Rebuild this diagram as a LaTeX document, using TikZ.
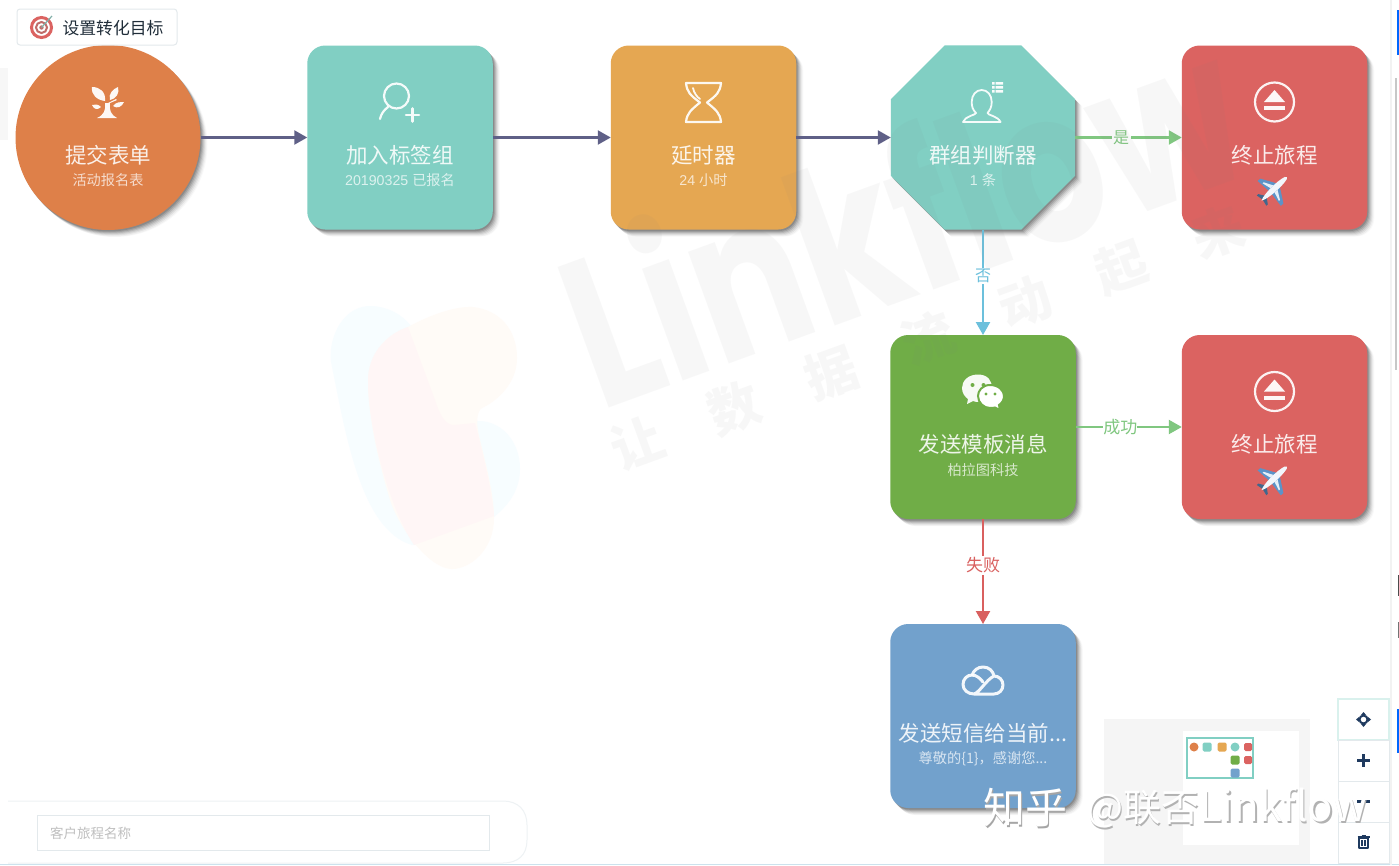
\documentclass[tikz,border=0pt]{standalone}
\usepackage{fontspec}
\setmainfont{Noto Sans CJK SC}
\newfontfamily\wmfont{Poppins}
\newfontfamily\latinfont{Liberation Sans}
\usetikzlibrary{arrows.meta,shapes.geometric,shadows}
\definecolor{cOrange}{HTML}{DE8049}
\definecolor{cTeal}{HTML}{81CFC3}
\definecolor{cAmber}{HTML}{E5A752}
\definecolor{cRed}{HTML}{DB6361}
\definecolor{cGreen}{HTML}{70AD47}
\definecolor{cBlue}{HTML}{72A1CC}
\definecolor{cSlate}{HTML}{5F6087}
\definecolor{cYes}{HTML}{80C780}
\definecolor{cNo}{HTML}{6CC0DC}
\definecolor{cFail}{HTML}{D9605F}
\definecolor{cBorder}{HTML}{E3E9EC}
\definecolor{cIcon}{HTML}{1F3A5F}
\definecolor{cPlane}{HTML}{5C93C8}
\tikzset{
  softshadow/.style={
    general shadow={shadow xshift=7pt,shadow yshift=-7pt,fill=black,opacity=.025},
    general shadow={shadow xshift=6pt,shadow yshift=-6.5pt,fill=black,opacity=.04},
    general shadow={shadow xshift=5pt,shadow yshift=-5.5pt,fill=black,opacity=.06},
    general shadow={shadow xshift=4pt,shadow yshift=-4.5pt,fill=black,opacity=.08},
    general shadow={shadow xshift=3pt,shadow yshift=-3.5pt,fill=black,opacity=.10},
    general shadow={shadow xshift=2pt,shadow yshift=-2.5pt,fill=black,opacity=.12},
    general shadow={shadow xshift=1pt,shadow yshift=-1.5pt,fill=black,opacity=.14}},
  flowbox/.style={rectangle,rounded corners=18pt,minimum width=185.5pt,minimum height=184pt,inner sep=0pt,outer sep=0pt,softshadow},
  flowcirc/.style={circle,minimum size=185pt,inner sep=0pt,outer sep=0pt,softshadow},
  flowocta/.style={regular polygon,regular polygon sides=8,minimum size=199.6pt,inner sep=0pt,outer sep=0pt,softshadow},
  titletext/.style={text=white,font=\fontsize{21.5pt}{24pt}\selectfont,text opacity=.88,inner sep=0pt},
  subtext/.style={text=white,font=\fontsize{14.2pt}{16pt}\selectfont,text opacity=.72,inner sep=0pt},
  link/.style={line width=2.3pt,-{Triangle[length=13pt,width=14pt]}},
  edgelabel/.style={fill=white,inner sep=1.5pt,font=\fontsize{17pt}{19pt}\selectfont},
  iconline/.style={draw=white,line width=2.2pt,fill=none,line cap=round,line join=round,opacity=.92},
  iconfill/.style={fill=white,draw=none,opacity=.95},
  tool/.style={rectangle,draw=cBorder,line width=1pt,fill=white,minimum width=51pt,minimum height=41pt,inner sep=0pt},
  mini/.style={inner sep=0pt,minimum size=9pt,rounded corners=1.5pt},
  wmark/.style={text=black!50,text opacity=.06},
}
\begin{document}
\begin{tikzpicture}[x=1pt,y=-1pt]
\useasboundingbox (0,0) rectangle (1399,865);
\fill[white] (0,0) rectangle (1399,865);
% watermark logo
\fill[cyan!3] (373,306) .. controls (345,304) and (328,335) .. (331,362) .. controls (345,430) and (360,530) .. (412,545) .. controls (450,545) and (520,520) .. (520,469) .. controls (520,440) and (500,420) .. (477,421) -- (420,340) .. controls (410,320) and (395,308) .. (373,306) -- cycle;
\fill[orange!3] (408,327) .. controls (430,315) and (455,306) .. (473,307) .. controls (500,310) and (517,330) .. (517,358) .. controls (517,385) and (495,402) .. (482,408) .. controls (476,412) and (476,425) .. (480,440) .. controls (490,480) and (494,500) .. (494,518) .. controls (494,550) and (470,569) .. (452,569) .. controls (430,569) and (400,530) .. (390,500) .. controls (375,450) and (368,410) .. (368,381) .. controls (368,355) and (385,335) .. (408,327) -- cycle;
\fill[red!3.5] (408,327) .. controls (385,335) and (368,355) .. (368,381) .. controls (368,420) and (385,500) .. (414,545) -- (494,516) .. controls (492,490) and (482,450) .. (475,423) -- (454,425) .. controls (445,425) and (440,415) .. (435,400) -- cycle;
\fill[black!3] (0,68) rectangle (8,140);
% flow nodes
\node[flowcirc,fill=cOrange] (n1) at (108,137.5) {};
\node[flowbox,fill=cTeal] (n2) at (400,137.5) {};
\node[flowbox,fill=cAmber] (n3) at (703.5,137.5) {};
\node[flowocta,fill=cTeal] (n4) at (983,137.5) {};
\node[flowbox,fill=cRed] (n5) at (1274.5,137.5) {};
\node[flowbox,fill=cGreen] (n6) at (983,427) {};
\node[flowbox,fill=cRed] (n7) at (1274.5,427) {};
\node[flowbox,fill=cBlue] (n8) at (983,716) {};
% connectors
\draw[link,cSlate] (n1) -- (n2);
\draw[link,cSlate] (n2) -- (n3);
\draw[link,cSlate] (n3) -- (n4);
\draw[link,cYes] (n4) -- node[edgelabel,text=cYes,pos=.43,font=\fontsize{16pt}{18pt}\selectfont] (l1) {是} (n5);
\draw[link,cNo] (n4) -- node[edgelabel,text=cNo,pos=.44,font=\fontsize{16pt}{18pt}\selectfont] (l2) {否} (n6);
\draw[link,cYes] (n6) -- node[edgelabel,text=cYes,pos=.42,inner xsep=0pt] (l3) {成功} (n7);
\draw[link,cFail] (n6) -- node[edgelabel,text=cFail,pos=.44,inner xsep=0pt] (l4) {失败} (n8);
% watermark text lies over the nodes
\node[rotate=20,xscale=.78,wmark,font=\wmfont\bfseries\fontsize{213pt}{213pt}\selectfont] (wmA) at (900,212) {Linkflow};
\node[rotate=20,wmark,font=\bfseries\fontsize{52pt}{56pt}\selectfont] (wmB) at (928,338) {让\hspace{51pt}数\hspace{51pt}据\hspace{51pt}流\hspace{51pt}动\hspace{51pt}起\hspace{51pt}来};
% labels
\node[titletext] (t1) at (108,155) {提交表单};
\node[subtext] (s1) at (108,180.5) {活动报名表};
\node[titletext] (t2) at (400,155) {加入标签组};
\node[subtext] (s2) at (400,180.5) {\latinfont 20190325 \normalfont 已报名};
\node[titletext] (t3) at (703.5,155) {延时器};
\node[subtext] (s3) at (703.5,180.5) {\latinfont 24 \normalfont 小时};
\node[titletext] (t4) at (983,155) {群组判断器};
\node[subtext] (s4) at (983,180.5) {\latinfont 1 \normalfont 条};
\node[titletext] (t5) at (1274.5,155) {终止旅程};
\node[titletext] (t7) at (1274.5,444) {终止旅程};
\node[titletext] (t6) at (983,444) {发送模板消息};
\node[subtext] (s6) at (983,470) {柏拉图科技};
\node[titletext] (t8) at (983,733) {发送短信给当前...};
\node[subtext] (s8) at (983,759) {尊敬的\{1\}，感谢您...};
% tree icon
\fill[iconfill] (97,118) -- (117,118) .. controls (111,115) and (109,110) .. (110,103) -- (117,100) -- (116,99) -- (108,103) -- (105,103) .. controls (106,110) and (104,115) .. (97,118) -- cycle;
\fill[iconfill] (105,101) .. controls (97,100) and (91,95) .. (92,87) .. controls (100,87) and (106,92) .. (105,101) -- cycle;
\fill[iconfill] (110,100) .. controls (108,94) and (113,89) .. (118,87) .. controls (120,93) and (116,99) .. (110,100) -- cycle;
\fill[iconfill] (101,107) .. controls (98,104) and (95,104) .. (92,105) .. controls (94,110) and (98,110) .. (101,107) -- cycle;
\fill[iconfill] (113,106) .. controls (116,102) and (120,102) .. (124,102) .. controls (122,107) and (117,109) .. (113,106) -- cycle;
% user plus icon
\draw[iconline] (396.5,96) circle (12.5);
\draw[iconline] (380,119) .. controls (381,114) and (384,110) .. (388,107);
\draw[iconline,line width=2.6pt] (406,115) -- (419,115) (412.5,108.5) -- (412.5,121.5);
% hourglass icon
\draw[iconline,line width=2.2pt] (686,83) -- (721,83) .. controls (720,92) and (717,95) .. (707,102.5) .. controls (716,110) and (720,113) .. (721,122) -- (686,122) .. controls (687,113) and (691,110) .. (700,102.5) .. controls (690,95) and (687,92) .. (686,83) -- cycle;
\draw[iconline,line width=1.8pt] (693,88) .. controls (694,93) and (697,97) .. (700,99);
% group user icon
\draw[iconline,line width=1.8pt] (976,113) .. controls (973,110) and (971.7,107) .. (971.7,102) .. controls (971.7,95) and (976,90) .. (981.7,90) .. controls (987.5,90) and (991.7,95) .. (991.7,102) .. controls (991.7,107) and (990,110) .. (987.5,113) .. controls (987,115) and (998,116) .. (1000.5,122) -- (963,122) .. controls (965,116) and (976,115) .. (976,113) -- cycle;
\fill[iconfill] (992,82) rectangle (994.5,84.5) (992,86) rectangle (994.5,88.5) (992,90) rectangle (994.5,92.5);
\fill[iconfill] (995.5,82) rectangle (1003,84.5) (995.5,86) rectangle (1003,88.5) (995.5,90) rectangle (1003,92.5);
% stop icons and planes
\foreach \cy in {0,289.5}{
  \begin{scope}[yshift=-\cy pt]
    \draw[iconline] (1274.5,102) circle (19.5);
    \fill[iconfill] (1274.5,90) -- (1285,102) -- (1264,102) -- cycle;
    \fill[iconfill] (1264,106) rectangle (1285,110);
    \begin{scope}[shift={(1274,189)},rotate=43]
      \fill[cPlane] (6,-2) -- (-3,-17) -- (-6.5,-17) -- (-5,-2) -- cycle;
      \fill[cPlane] (6,2) -- (-3,17) -- (-6.5,17) -- (-5,2) -- cycle;
      \fill[cPlane!70!black] (-11,-1) -- (-15,-7) -- (-17,-7) -- (-15.5,0) -- (-17,7) -- (-15,7) -- (-11,1) -- cycle;
      \fill[white!92!cPlane] (-17,0) .. controls (-12,-3.2) and (8,-4) .. (16,-1.5) .. controls (18,-.5) and (18,.5) .. (16,1.5) .. controls (8,4) and (-12,3.2) .. (-17,0) -- cycle;
      \fill[white!85!cPlane] (2,-3) -- (-3,-12) -- (-4.5,-12) -- (-2,-3) -- cycle;
      \fill[white!85!cPlane] (2,3) -- (-3,12) -- (-4.5,12) -- (-2,3) -- cycle;
    \end{scope}
  \end{scope}
}
% wechat icon
\fill[iconfill] (978,374.5) .. controls (968,374.5) and (962,381) .. (962,388) .. controls (962,393) and (965,397) .. (968,399) -- (967,404) -- (973,401) .. controls (975,402) and (977,402) .. (979,402) .. controls (988,402) and (992,395) .. (992,388) .. controls (992,381) and (988,374.5) .. (978,374.5) -- cycle;
\draw[draw=cGreen,line width=2pt,fill=white] (990,385) .. controls (982,385) and (978,391) .. (978,396) .. controls (978,403) and (984,408) .. (990,408) .. controls (992,408) and (994,408) .. (995,407.5) -- (1000,410) -- (999,405) .. controls (1002,403) and (1004,400) .. (1004,396) .. controls (1004,391) and (999,385) .. (990,385) -- cycle;
\fill[cGreen] (972.5,385) circle (2) (983.5,385) circle (2) (986,394) circle (1.6) (995,394) circle (1.6);
% cloud icon
\draw[iconline,line width=3pt] (974,694) .. controls (968,694) and (963,690) .. (963,684.5) .. controls (963,679) and (967,675) .. (972,675) .. controls (974,670) and (978,667) .. (983,667) .. controls (989,667) and (993,671) .. (994,676) .. controls (999,676) and (1003,680) .. (1003,685) .. controls (1003,690) and (999,694) .. (994,694) -- (974,694) .. controls (980,692) and (986,680) .. (994,676);
\draw[iconline,line width=3pt] (972,675) .. controls (976,675) and (980,678) .. (983,682);
% top-left button
\node[rectangle,draw=cBorder,fill=white,line width=1pt,rounded corners=3pt,minimum width=160pt,minimum height=36pt,inner sep=0pt] (goal) at (97,27) {};
\node[inner sep=0pt,text=black!72!cBlue,font=\fontsize{16.8pt}{18pt}\selectfont] (goalt) at (113,28) {设置转化目标};
\draw[cRed,line width=3pt] (41.5,27.5) circle (10);
\draw[cRed!70!gray,line width=2pt] (41.5,27.5) circle (5.5);
\fill[cRed!70!gray] (41.5,27.5) circle (2.2);
\draw[cTeal!60!gray,line width=1.2pt] (41.5,27.5) -- (52,16);
% input panel
\draw[cBorder!60,line width=1pt,fill=white] (8,801) -- (503,801) .. controls (518,801) and (527,810) .. (527,825) -- (527,840) .. controls (527,855) and (518,863) .. (503,863) -- (8,863);
\node[rectangle,draw=cBorder,line width=1pt,fill=white,minimum width=452pt,minimum height=35pt,inner sep=0pt] (input) at (263,832.5) {};
\node[anchor=west,inner sep=0pt,text=black!25,font=\fontsize{13.5pt}{15pt}\selectfont] (inputt) at (50,833) {客户旅程名称};
% minimap
\fill[black!4] (1104,719) rectangle (1310,865);
\fill[white] (1183,731) rectangle (1299,845);
\draw[cTeal,line width=2pt] (1187,738) rectangle (1253,778);
\node[mini,fill=cOrange,circle] (m1) at (1194,747) {};
\node[mini,fill=cTeal] (m2) at (1207,747) {};
\node[mini,fill=cAmber] (m3) at (1222,747) {};
\node[mini,fill=cTeal,circle] (m4) at (1235,747) {};
\node[mini,fill=cRed,minimum size=8pt] (m5) at (1248,747) {};
\node[mini,fill=cGreen] (m6) at (1235,760) {};
\node[mini,fill=cRed,minimum size=8pt] (m7) at (1248,760) {};
\node[mini,fill=cBlue] (m8) at (1235,773) {};
% toolbar
\node[tool,draw=cTeal!30,line width=2pt] (b1) at (1363.5,719.5) {};
\node[tool] (b2) at (1363.5,760.5) {};
\node[tool] (b3) at (1363.5,801.5) {};
\node[tool] (b4) at (1363.5,842.5) {};
\draw[cIcon,line width=2pt] (1363.5,719.5) circle (4);
\fill[cIcon] (1363.5,712) -- (1366,715) -- (1361,715) -- cycle (1363.5,727) -- (1366,724) -- (1361,724) -- cycle (1356,719.5) -- (1359,717) -- (1359,722) -- cycle (1371,719.5) -- (1368,717) -- (1368,722) -- cycle;
\draw[cIcon,line width=3pt] (1357,760.5) -- (1370,760.5) (1363.5,754) -- (1363.5,767);
\draw[cIcon,line width=3pt] (1357,801) -- (1370,801);
\draw[cIcon,line width=1.6pt,line join=round] (1359,838) rectangle (1368,848);
\draw[cIcon,line width=1.6pt] (1357.5,837) -- (1369.5,837) (1361.5,835.5) -- (1365.5,835.5) (1362,840) -- (1362,846) (1365,840) -- (1365,846);
% edge artefacts
\fill[cyan!12!cBorder] (0,863.5) rectangle (1399,865);
\fill[black!5] (1389.5,0) rectangle (1392,865);
\fill[blue!60!cyan] (1397.3,10) rectangle (1399,55);
\fill[blue!60!cyan] (1397.3,709) rectangle (1399,753);
\fill[black!22] (1395,78) rectangle (1397,370);
\fill[black!70] (1397.5,575) rectangle (1399,596);
\fill[black!55] (1397.5,622) rectangle (1399,638);
% zhihu mark
\node[anchor=west,inner sep=0pt,text=black!35,font=\fontsize{42pt}{45pt}\selectfont] (zA) at (984.5,810) {知乎};
\node[anchor=west,inner sep=0pt,text=white,font=\fontsize{42pt}{45pt}\selectfont] (zB) at (983,808) {知乎};
\node[anchor=west,inner sep=0pt,text=black!30,font=\fontsize{38pt}{40pt}\selectfont] (zC) at (1088.5,810) {@联否{\fontsize{42pt}{45pt}\selectfont Linkflow}};
\node[anchor=west,inner sep=0pt,text=white,font=\fontsize{38pt}{40pt}\selectfont] (zD) at (1087,808) {@联否{\fontsize{42pt}{45pt}\selectfont Linkflow}};
\end{tikzpicture}
\end{document}
